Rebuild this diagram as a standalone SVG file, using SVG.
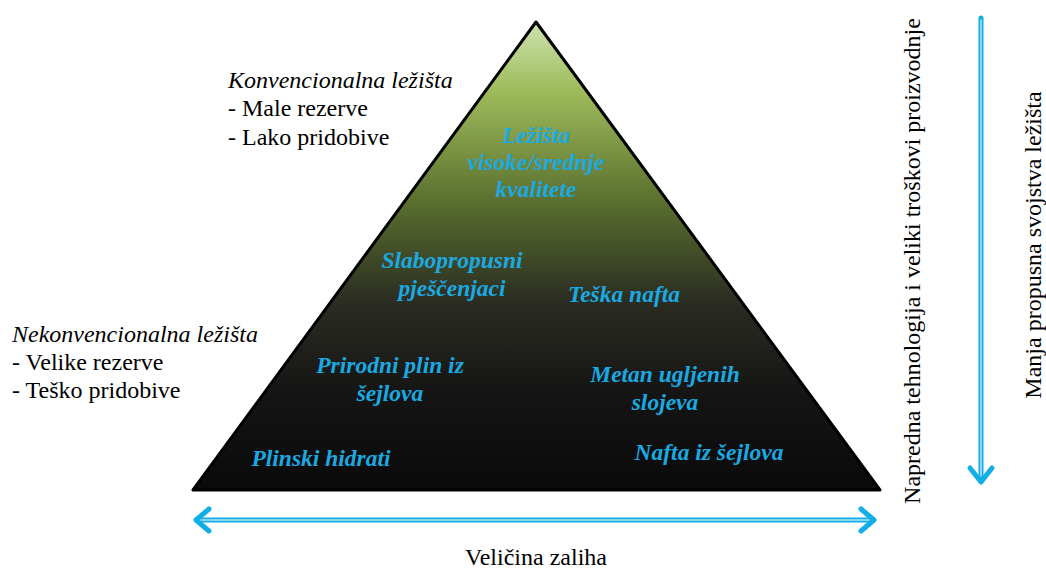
<svg xmlns="http://www.w3.org/2000/svg" width="1046" height="572" viewBox="0 0 1046 572">
<defs>
<linearGradient id="g" x1="0" y1="22" x2="0" y2="490" gradientUnits="userSpaceOnUse">
<stop offset="0" stop-color="#cde2ae"/>
<stop offset="0.15" stop-color="#9dbb5a"/>
<stop offset="0.4" stop-color="#566a2c"/>
<stop offset="0.6" stop-color="#2a2c22"/>
<stop offset="0.8" stop-color="#141414"/>
<stop offset="1" stop-color="#0a0a0a"/>
</linearGradient>
</defs>
<rect width="1046" height="572" fill="#fff"/>
<g id="pyramid">
<polygon points="536,22 193,490 880,490" fill="url(#g)" stroke="#000" stroke-width="3" stroke-linejoin="round"/>
</g>
<g id="n-visoke"><text style="font-family:'Liberation Serif',serif;font-size:23.5px;font-style:italic;font-weight:bold;fill:#1ba9e1" text-anchor="middle" x="536" y="143">Ležišta</text><text style="font-family:'Liberation Serif',serif;font-size:23.5px;font-style:italic;font-weight:bold;fill:#1ba9e1" text-anchor="middle" x="536" y="170">visoke/srednje</text><text style="font-family:'Liberation Serif',serif;font-size:23.5px;font-style:italic;font-weight:bold;fill:#1ba9e1" text-anchor="middle" x="536" y="197">kvalitete</text></g>
<g id="n-slabo"><text style="font-family:'Liberation Serif',serif;font-size:23.5px;font-style:italic;font-weight:bold;fill:#1ba9e1" text-anchor="middle" x="452" y="268">Slabopropusni</text><text style="font-family:'Liberation Serif',serif;font-size:23.5px;font-style:italic;font-weight:bold;fill:#1ba9e1" text-anchor="middle" x="452" y="296">pješčenjaci</text></g>
<g id="n-teska"><text style="font-family:'Liberation Serif',serif;font-size:23.5px;font-style:italic;font-weight:bold;fill:#1ba9e1" text-anchor="middle" x="624" y="302">Teška nafta</text></g>
<g id="n-plin"><text style="font-family:'Liberation Serif',serif;font-size:23.5px;font-style:italic;font-weight:bold;fill:#1ba9e1" text-anchor="middle" x="390" y="373">Prirodni plin iz</text><text style="font-family:'Liberation Serif',serif;font-size:23.5px;font-style:italic;font-weight:bold;fill:#1ba9e1" text-anchor="middle" x="390" y="401">šejlova</text></g>
<g id="n-metan"><text style="font-family:'Liberation Serif',serif;font-size:23.5px;font-style:italic;font-weight:bold;fill:#1ba9e1" text-anchor="middle" x="665" y="382">Metan ugljenih</text><text style="font-family:'Liberation Serif',serif;font-size:23.5px;font-style:italic;font-weight:bold;fill:#1ba9e1" text-anchor="middle" x="665" y="410">slojeva</text></g>
<g id="n-hidrati"><text style="font-family:'Liberation Serif',serif;font-size:23.5px;font-style:italic;font-weight:bold;fill:#1ba9e1" text-anchor="middle" x="321" y="466">Plinski hidrati</text></g>
<g id="n-nafta"><text style="font-family:'Liberation Serif',serif;font-size:23.5px;font-style:italic;font-weight:bold;fill:#1ba9e1" text-anchor="middle" x="709" y="460">Nafta iz šejlova</text></g>
<g id="konv"><text style="font-family:'Liberation Serif',serif;font-size:24px;font-style:italic;fill:#000" x="228" y="88">Konvencionalna ležišta</text><text style="font-family:'Liberation Serif',serif;font-size:24px;fill:#000" x="228" y="116">- Male rezerve</text><text style="font-family:'Liberation Serif',serif;font-size:24px;fill:#000" x="228" y="145">- Lako pridobive</text></g>
<g id="nekonv"><text style="font-family:'Liberation Serif',serif;font-size:24px;font-style:italic;fill:#000" x="12" y="342">Nekonvencionalna ležišta</text><text style="font-family:'Liberation Serif',serif;font-size:24px;fill:#000" x="12" y="370">- Velike rezerve</text><text style="font-family:'Liberation Serif',serif;font-size:24px;fill:#000" x="12" y="398">- Teško pridobive</text></g>
<g id="label-x"><text style="font-family:'Liberation Serif',serif;font-size:24px;fill:#000" x="536" y="565" text-anchor="middle">Veličina zaliha</text></g>
<g id="label-y1"><text style="font-family:'Liberation Serif',serif;font-size:24px;fill:#000" transform="translate(920,261) rotate(-90)" text-anchor="middle">Napredna tehnologija i veliki troškovi proizvodnje</text></g>
<g id="label-y2"><text style="font-family:'Liberation Serif',serif;font-size:24px;fill:#000" transform="translate(1041,245) rotate(-90)" text-anchor="middle">Manja propusna svojstva ležišta</text></g>
<g id="connectors" fill="none" stroke="#12aee8" stroke-linecap="round" stroke-linejoin="round">
<line x1="197" y1="520" x2="873" y2="520" stroke-width="5"/>
<line x1="200" y1="520" x2="870" y2="520" stroke="#fff" stroke-width="1"/>
<polyline points="209,509 196,520 209,531" stroke-width="5"/>
<polyline points="861,509 874,520 861,531" stroke-width="5"/>
<line x1="981" y1="18" x2="981" y2="480" stroke-width="5"/>
<line x1="981" y1="20" x2="981" y2="476" stroke="#fff" stroke-width="1"/>
<polyline points="970,468 981,482 992,468" stroke-width="5"/>
</g>
</svg>
